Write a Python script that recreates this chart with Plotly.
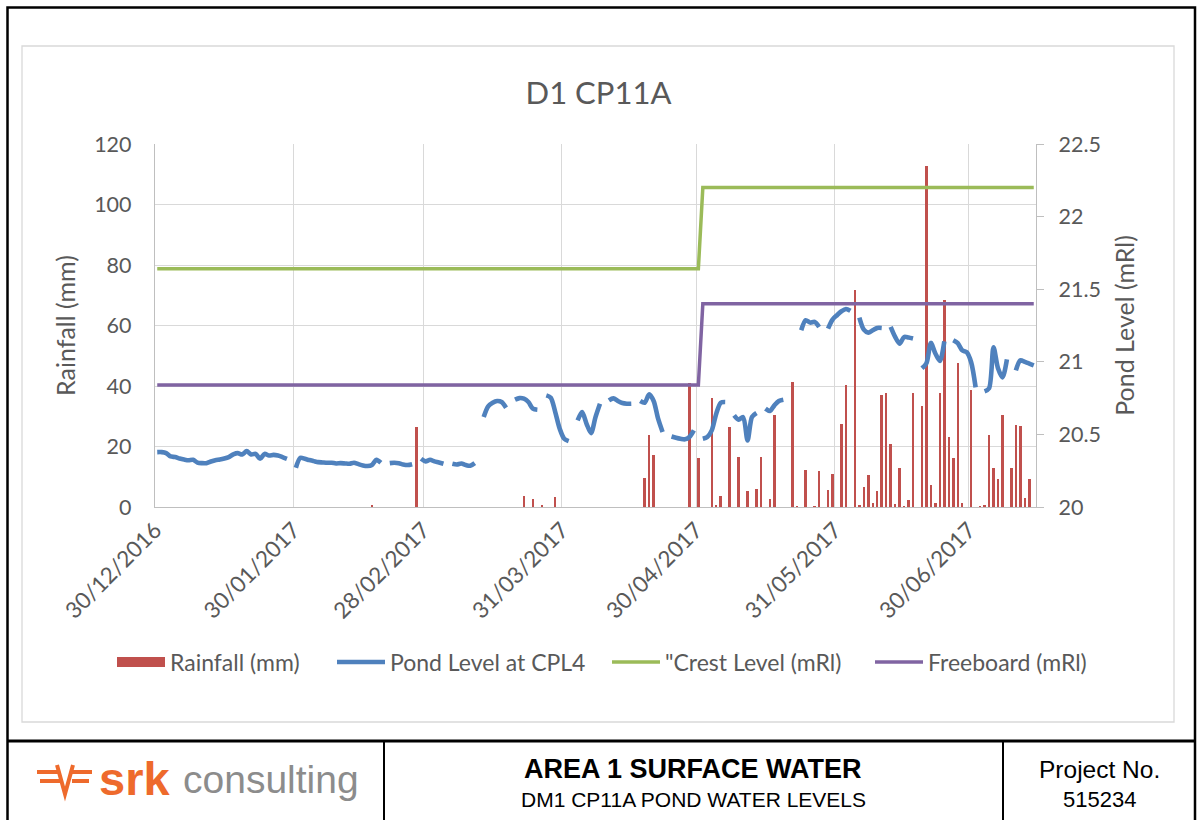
import pandas as pd
import plotly.graph_objects as go

# ---------------------------------------------------------------- data
start_date = "2016-12-30"
end_date = "2017-07-14"
days = pd.date_range(start_date, end_date, freq="D")

# Daily pond level at CPL4 (mRL); None = no reading that day
pond_level = [
    20.378, 20.378, 20.371, 20.348, 20.344, 20.334, 20.327, 20.322, 20.325, 20.306,
    20.302, 20.302, 20.313, 20.322, 20.327, 20.334, 20.344, 20.362, 20.371, 20.362,
    20.385, 20.362, 20.366, 20.332, 20.366, 20.355, 20.359, 20.355, 20.344, 20.332,
    None, 20.270, 20.339, 20.332, 20.323, 20.316, 20.309, 20.307, 20.305, 20.305,
    20.300, 20.302, 20.300, 20.298, 20.305, 20.295, 20.286, 20.282, 20.289, 20.325,
    20.305, None, 20.302, 20.305, 20.302, 20.293, 20.289, 20.295, None, 20.332,
    20.314, 20.325, 20.314, 20.307, 20.298, None, 20.298, 20.293, 20.300, 20.289,
    20.284, 20.302, None, 20.620, 20.693, 20.718, 20.730, 20.723, 20.684, None,
    20.739, 20.750, 20.746, 20.723, 20.677, 20.670, None, 20.769, 20.753, 20.654,
    20.539, 20.470, 20.454, None, 20.596, 20.654, 20.573, 20.509, 20.619, 20.711,
    None, 20.734, 20.748, 20.730, 20.716, 20.711, 20.711, None, 20.730, 20.718,
    20.776, 20.730, 20.608, 20.516, None, 20.486, 20.477, 20.470, 20.466, 20.482,
    20.528, None, 20.470, 20.482, 20.528, 20.643, 20.718, 20.723, None, 20.631,
    20.601, 20.620, 20.459, 20.620, 20.647, None, 20.677, 20.661, 20.700, 20.730,
    20.739, None, None, None, 21.217, 21.286, 21.270, 21.275, 21.240, None,
    21.229, 21.291, 21.321, 21.348, 21.364, 21.351, None, 21.305, 21.222, 21.201,
    21.217, 21.233, 21.233, None, 21.240, 21.171, 21.125, 21.171, 21.167, 21.160,
    None, 20.955, 20.990, 21.130, 21.057, 21.006, 21.141, None, 21.148, 21.128,
    21.079, 21.066, 20.997, 20.824, None, 20.797, 20.817, 21.100, 20.955, 20.893,
    21.017, None, 20.941, 21.010, 20.999, 20.988, 20.976,
]

# Daily rainfall (mm), wet days only
rain_dates = [
    "2017-02-16", "2017-02-26", "2017-03-22", "2017-03-24", "2017-03-26", "2017-03-29",
    "2017-04-18", "2017-04-19", "2017-04-20", "2017-04-28", "2017-04-30",
    "2017-05-03", "2017-05-04", "2017-05-05", "2017-05-07", "2017-05-09", "2017-05-11",
    "2017-05-13", "2017-05-14", "2017-05-16", "2017-05-17", "2017-05-21", "2017-05-22",
    "2017-05-24", "2017-05-26", "2017-05-27", "2017-05-29", "2017-05-30",
    "2017-06-01", "2017-06-02", "2017-06-04", "2017-06-05", "2017-06-06", "2017-06-07",
    "2017-06-08", "2017-06-09", "2017-06-10", "2017-06-11", "2017-06-12", "2017-06-13",
    "2017-06-14", "2017-06-15", "2017-06-16", "2017-06-17", "2017-06-19", "2017-06-20",
    "2017-06-21", "2017-06-22", "2017-06-23", "2017-06-24", "2017-06-25", "2017-06-26",
    "2017-06-27", "2017-06-28", "2017-06-30",
    "2017-07-02", "2017-07-03", "2017-07-04", "2017-07-05", "2017-07-06", "2017-07-07",
    "2017-07-09", "2017-07-10", "2017-07-11", "2017-07-12", "2017-07-13",
]
rain_mm = [
    0.5, 26.3, 3.6, 2.5, 0.6, 3.3,
    9.5, 23.8, 17.1, 41.0, 16.1,
    35.9, 0.6, 3.6, 26.6, 16.6, 5.3,
    6.1, 16.6, 2.8, 30.4, 41.2, 0.3,
    12.3, 0.3, 11.8, 5.5, 11.0,
    27.4, 40.4, 71.6, 0.7, 6.7, 10.5,
    1.2, 5.2, 36.9, 37.8, 20.7, 0.9,
    13.0, 0.3, 2.2, 37.8, 33.3, 112.7,
    7.3, 1.3, 37.8, 68.3, 23.0, 16.1,
    47.5, 1.2, 38.7,
    0.3, 0.5, 23.9, 12.8, 9.1, 30.3,
    13.0, 27.2, 26.7, 2.9, 9.4,
]

# Crest and freeboard levels (mRL), raised on 1 May 2017
level_dates = ["2016-12-30", "2017-04-30", "2017-05-01", "2017-07-14"]
crest_level = [21.64, 21.64, 22.20, 22.20]
freeboard_level = [20.84, 20.84, 21.40, 21.40]

tick_dates = ["2016-12-30", "2017-01-30", "2017-02-28", "2017-03-31",
              "2017-04-30", "2017-05-31", "2017-06-30"]
tick_labels = ["30/12/2016", "30/01/2017", "28/02/2017", "31/03/2017",
               "30/04/2017", "31/05/2017", "30/06/2017"]

# ---------------------------------------------------------------- layout geometry
W, H = 1197, 820
ML, MR, MT, MB = 155, 161, 144, 313
PW, PH = W - ML - MR, H - MT - MB


def fx(x):
    return (x - ML) / PW


def fy(y):
    return (H - MB - y) / PH


DAY_MS = 86400000
TXT = "#595959"
FONT = "Lato, 'Noto Sans', sans-serif"
SANS = "'Liberation Sans', Arial, sans-serif"

RED, BLUE, GREEN, PURPLE = "#C0504D", "#4F81BD", "#9BBB59", "#8064A2"

fig = go.Figure()

fig.add_trace(go.Bar(
    x=rain_dates, y=rain_mm, name="Rainfall (mm)",
    marker=dict(color=RED, line=dict(width=0)),
    width=0.55 * DAY_MS, xperiod=DAY_MS, xperiodalignment="middle",
    showlegend=False,
))
# legend key for the rainfall columns (wide filled block)
fig.add_trace(go.Scatter(
    x=[None], y=[None], name="Rainfall (mm)", mode="lines",
    line=dict(color=RED, width=14), legend="legend",
))
fig.add_trace(go.Scatter(
    x=days, y=pond_level, name="Pond Level at CPL4", yaxis="y2",
    mode="lines", line=dict(color=BLUE, width=4.6, shape="spline", smoothing=0.8),
    xperiod=DAY_MS, xperiodalignment="middle", connectgaps=False,
    legend="legend2",
))
fig.add_trace(go.Scatter(
    x=level_dates, y=crest_level, name="\"Crest Level (mRl)", yaxis="y2",
    mode="lines", line=dict(color=GREEN, width=3.5),
    xperiod=DAY_MS, xperiodalignment="middle",
    legend="legend3",
))
fig.add_trace(go.Scatter(
    x=level_dates, y=freeboard_level, name="Freeboard (mRl)", yaxis="y2",
    mode="lines", line=dict(color=PURPLE, width=3.5),
    xperiod=DAY_MS, xperiodalignment="middle",
    legend="legend4",
))

leg_common = dict(orientation="h", yanchor="middle", y=fy(662), xanchor="left",
                  font=dict(family=FONT, size=23, color=TXT),
                  bgcolor="rgba(0,0,0,0)", itemwidth=48)

shapes = [
    # chart area frame
    dict(type="rect", xref="paper", yref="paper", x0=fx(22), x1=fx(1174),
         y0=fy(722), y1=fy(46), line=dict(color="#D9D9D9", width=1.3), layer="below"),
    # page frame
    dict(type="rect", xref="paper", yref="paper", x0=fx(7.5), x1=fx(1195),
         y0=fy(830), y1=fy(7.5), line=dict(color="black", width=2.5)),
    # title block
    dict(type="line", xref="paper", yref="paper", x0=fx(7.5), x1=fx(1195),
         y0=fy(741), y1=fy(741), line=dict(color="black", width=3)),
    dict(type="line", xref="paper", yref="paper", x0=fx(384), x1=fx(384),
         y0=fy(741), y1=fy(830), line=dict(color="black", width=2)),
    dict(type="line", xref="paper", yref="paper", x0=fx(1003), x1=fx(1003),
         y0=fy(741), y1=fy(830), line=dict(color="black", width=2)),
]

# srk logo mark
ORANGE = "#EE6A2C"
for (xa, xb, yy) in [(37, 60, 772), (40, 60, 781), (72, 92, 772), (72, 89, 781)]:
    shapes.append(dict(type="line", xref="paper", yref="paper", x0=fx(xa), x1=fx(xb),
                       y0=fy(yy), y1=fy(yy), line=dict(color=ORANGE, width=4)))
shapes.append(dict(type="path", xref="paper", yref="paper",
                   path="M{:.5f},{:.5f} L{:.5f},{:.5f} L{:.5f},{:.5f}".format(
                       fx(57), fy(765), fx(65), fy(794), fx(73), fy(765)),
                   line=dict(color=ORANGE, width=4)))

annotations = [
    dict(text="<b>srk</b>", x=fx(97), y=fy(778), xref="paper", yref="paper", xanchor="left",
         yanchor="middle", showarrow=False,
         font=dict(family=SANS, size=47, color=ORANGE)),
    dict(text="consulting", x=fx(181), y=fy(779), xref="paper", yref="paper", xanchor="left",
         yanchor="middle", showarrow=False,
         font=dict(family=SANS, size=39, color="#8C8C8C")),
    dict(text="<b>AREA 1 SURFACE WATER</b>", x=fx(693), y=fy(769), xref="paper",
         yref="paper", xanchor="center", yanchor="middle", showarrow=False,
         font=dict(family=SANS, size=27, color="black")),
    dict(text="DM1 CP11A POND WATER LEVELS", x=fx(693), y=fy(799), xref="paper",
         yref="paper", xanchor="center", yanchor="middle", showarrow=False,
         font=dict(family=SANS, size=21, color="black")),
    dict(text="Project No.", x=fx(1099), y=fy(769), xref="paper", yref="paper",
         xanchor="center", yanchor="middle", showarrow=False,
         font=dict(family=SANS, size=24.5, color="black")),
    dict(text="515234", x=fx(1099), y=fy(799), xref="paper", yref="paper",
         xanchor="center", yanchor="middle", showarrow=False,
         font=dict(family=SANS, size=22, color="black")),
]

fig.update_layout(
    width=W, height=H,
    margin=dict(l=ML, r=MR, t=MT, b=MB, autoexpand=False),
    paper_bgcolor="white", plot_bgcolor="white",
    font=dict(family=FONT, color=TXT),
    title=dict(text="D1 CP11A", x=0.5, xref="container", y=1 - 93 / H,
               yref="container", xanchor="center", yanchor="middle",
               font=dict(family=FONT, size=31, color=TXT)),
    bargap=0,
    xaxis=dict(
        type="date", range=["2016-12-30", "2017-07-15"],
        tickvals=tick_dates, ticktext=tick_labels, tickangle=-45,
        tickfont=dict(family=FONT, size=22.5, color=TXT),
        showgrid=True, gridcolor="#D9D9D9", gridwidth=1.3,
        showline=True, linecolor="#BFBFBF", linewidth=1.3,
        ticks="", zeroline=False,
    ),
    yaxis=dict(
        range=[0, 120], tickvals=[0, 20, 40, 60, 80, 100, 120],
        tickfont=dict(family=FONT, size=21.5, color=TXT),
        showgrid=True, gridcolor="#D9D9D9", gridwidth=1.3,
        showline=True, linecolor="#BFBFBF", linewidth=1.3, zeroline=False,
        ticks="", ticklabelstandoff=18,
        title=dict(text="Rainfall (mm)", standoff=11,
                   font=dict(family=FONT, size=25, color=TXT)),
    ),
    yaxis2=dict(
        overlaying="y", side="right", range=[20, 22.5],
        tickvals=[20, 20.5, 21, 21.5, 22, 22.5],
        tickfont=dict(family=FONT, size=21.5, color=TXT),
        showgrid=False, zeroline=False,
        showline=True, linecolor="#BFBFBF", linewidth=1.3,
        ticks="outside", ticklen=7, tickcolor="#BFBFBF", tickwidth=1.3,
        ticklabelstandoff=10,
        title=dict(text="Pond Level (mRl)", standoff=16,
                   font=dict(family=FONT, size=25, color=TXT)),
    ),
    legend=dict(leg_common, x=fx(112)),
    legend2=dict(leg_common, x=fx(332)),
    legend3=dict(leg_common, x=fx(607)),
    legend4=dict(leg_common, x=fx(870)),
    shapes=shapes,
    annotations=annotations,
    showlegend=True,
)

fig.write_html("out.html")
